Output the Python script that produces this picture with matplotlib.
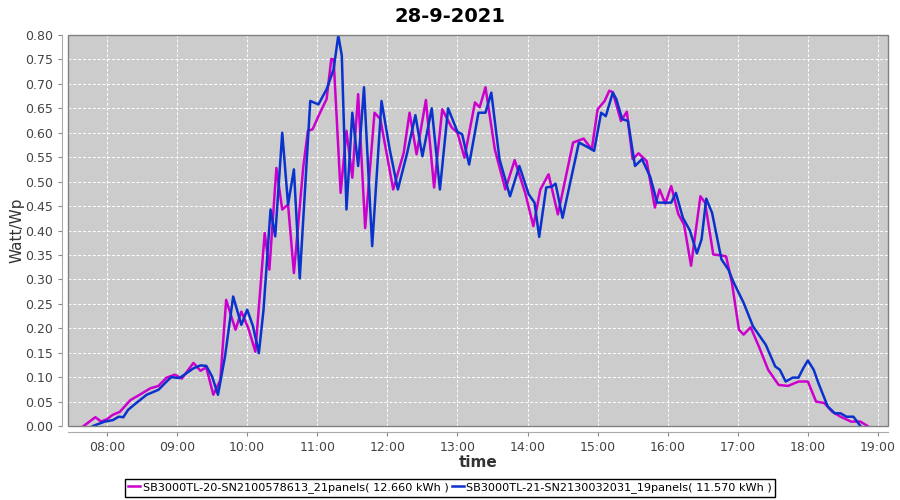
import matplotlib
matplotlib.use("Agg")
import matplotlib.pyplot as plt
import matplotlib.dates as mdates
import pandas as pd
from matplotlib.patches import Rectangle

day = "2021-09-28 "

# SB3000TL-20 (21 panels)
times_a = ["07:40", "07:50", "07:55", "08:00", "08:05", "08:11", "08:20", "08:28", "08:37", "08:44",
           "08:51", "08:58", "09:04", "09:14", "09:20", "09:25", "09:31", "09:37", "09:42", "09:50",
           "09:55", "10:01", "10:07", "10:15", "10:19", "10:25", "10:30", "10:35", "10:40", "10:48",
           "10:52", "10:56", "11:01", "11:08", "11:12", "11:14", "11:20", "11:25", "11:30", "11:35",
           "11:41", "11:49", "11:54", "12:05", "12:14", "12:19", "12:25", "12:33", "12:40", "12:47",
           "12:55", "13:00", "13:06", "13:15", "13:19", "13:24", "13:32", "13:41", "13:49", "13:58",
           "14:05", "14:11", "14:18", "14:26", "14:39", "14:48", "14:55", "15:00", "15:06", "15:10",
           "15:13", "15:20", "15:25", "15:30", "15:35", "15:42", "15:49", "15:53", "15:58", "16:03",
           "16:09", "16:14", "16:20", "16:28", "16:32", "16:39", "16:46", "16:50", "16:55", "17:01",
           "17:05", "17:11", "17:18", "17:26", "17:35", "17:43", "17:52", "18:00", "18:07", "18:14",
           "18:21", "18:28", "18:37", "18:45", "18:51"]
watt_a = [0.0, 0.018, 0.009, 0.014, 0.023, 0.029, 0.053, 0.064, 0.077, 0.082,
          0.099, 0.105, 0.097, 0.129, 0.113, 0.120, 0.064, 0.094, 0.258, 0.197,
          0.234, 0.200, 0.152, 0.395, 0.320, 0.528, 0.443, 0.453, 0.313, 0.530,
          0.604, 0.607, 0.634, 0.669, 0.751, 0.750, 0.477, 0.604, 0.508, 0.679,
          0.405, 0.641, 0.628, 0.484, 0.559, 0.641, 0.556, 0.667, 0.488, 0.648,
          0.611, 0.600, 0.549, 0.662, 0.652, 0.693, 0.566, 0.484, 0.544, 0.477,
          0.409, 0.484, 0.515, 0.433, 0.580, 0.588, 0.566, 0.648, 0.665, 0.686,
          0.683, 0.624, 0.643, 0.546, 0.558, 0.542, 0.447, 0.484, 0.455, 0.491,
          0.434, 0.412, 0.328, 0.470, 0.457, 0.351, 0.349, 0.347, 0.293, 0.197,
          0.187, 0.202, 0.163, 0.115, 0.084, 0.082, 0.091, 0.091, 0.050, 0.047,
          0.029, 0.019, 0.009, 0.009, 0.0]

# SB3000TL-21 (19 panels)
times_b = ["07:48", "07:58", "08:05", "08:10", "08:14", "08:18", "08:25", "08:34", "08:44", "08:51",
           "08:55", "09:02", "09:14", "09:20", "09:25", "09:30", "09:35", "09:41", "09:48", "09:55",
           "10:00", "10:05", "10:10", "10:14", "10:20", "10:24", "10:30", "10:35", "10:40", "10:45",
           "10:54", "11:01", "11:08", "11:14", "11:18", "11:21", "11:25", "11:30", "11:35", "11:40",
           "11:47", "11:55", "12:02", "12:09", "12:17", "12:24", "12:30", "12:38", "12:45", "12:52",
           "13:00", "13:04", "13:10", "13:18", "13:24", "13:29", "13:36", "13:45", "13:53", "14:01",
           "14:06", "14:10", "14:16", "14:21", "14:24", "14:30", "14:44", "14:52", "14:57", "15:03",
           "15:07", "15:13", "15:16", "15:21", "15:26", "15:32", "15:38", "15:45", "15:51", "15:57",
           "16:03", "16:07", "16:13", "16:19", "16:25", "16:29", "16:33", "16:38", "16:46", "16:52",
           "16:56", "17:05", "17:13", "17:24", "17:32", "17:36", "17:41", "17:47", "17:52", "17:56",
           "18:00", "18:05", "18:09", "18:17", "18:23", "18:28", "18:33", "18:39", "18:45"]
watt_b = [0.0, 0.009, 0.012, 0.019, 0.018, 0.033, 0.047, 0.064, 0.074, 0.091,
          0.100, 0.098, 0.118, 0.124, 0.123, 0.101, 0.064, 0.142, 0.265, 0.207,
          0.238, 0.204, 0.149, 0.238, 0.443, 0.388, 0.600, 0.453, 0.525, 0.302,
          0.665, 0.658, 0.689, 0.730, 0.799, 0.758, 0.443, 0.641, 0.532, 0.693,
          0.368, 0.665, 0.566, 0.484, 0.559, 0.636, 0.552, 0.650, 0.484, 0.650,
          0.602, 0.597, 0.535, 0.641, 0.641, 0.682, 0.546, 0.470, 0.532, 0.474,
          0.457, 0.387, 0.488, 0.490, 0.496, 0.426, 0.580, 0.570, 0.563, 0.641,
          0.634, 0.682, 0.669, 0.628, 0.624, 0.532, 0.546, 0.510, 0.457, 0.457,
          0.457, 0.477, 0.426, 0.400, 0.353, 0.382, 0.465, 0.436, 0.341, 0.320,
          0.296, 0.252, 0.204, 0.166, 0.122, 0.115, 0.091, 0.099, 0.099, 0.118,
          0.134, 0.115, 0.088, 0.040, 0.026, 0.026, 0.019, 0.019, 0.0]

label_a = "SB3000TL-20-SN2100578613_21panels( 12.660 kWh )"
label_b = "SB3000TL-21-SN2130032031_19panels( 11.570 kWh )"

ta = pd.to_datetime([day + t for t in times_a])
tb = pd.to_datetime([day + t for t in times_b])

fig = plt.figure(figsize=(9, 5), dpi=100)
ax = fig.add_axes([68 / 900, 74 / 500, 820 / 900, 391 / 500])
ax.set_facecolor("#cccccc")

ax.plot(ta, watt_a, color="#cc00cc", lw=1.8, solid_joinstyle="round", label=label_a)
ax.plot(tb, watt_b, color="#0a32cc", lw=1.8, solid_joinstyle="round", label=label_b)

ax.set_xlim(pd.Timestamp(day + "07:26:36"), pd.Timestamp(day + "19:08:36"))
ax.set_ylim(0, 0.8)
ax.set_yticks([i * 0.05 for i in range(17)])
ax.yaxis.set_major_formatter(plt.FuncFormatter(lambda v, p: "%.2f" % v))
ax.xaxis.set_major_locator(mdates.HourLocator())
ax.xaxis.set_major_formatter(mdates.DateFormatter("%H:%M"))

ax.grid(True, color="white", ls=(0, (3, 2)), lw=0.7)
ax.tick_params(labelsize=9, colors="#888888", labelcolor="#444444", length=3)

for s in ["top", "right"]:
    ax.spines[s].set_visible(False)
for s in ["left", "bottom"]:
    ax.spines[s].set_position(("outward", 4))
    ax.spines[s].set_color("#aaaaaa")
ax.add_patch(Rectangle((0, 0), 1, 1, transform=ax.transAxes, fill=False,
                       edgecolor="#808080", lw=1, clip_on=False, zorder=5))

fig.suptitle("28-9-2021", x=0.5, y=0.985, fontsize=14, fontweight="bold")
ax.set_xlabel("time", fontsize=11, color="#333333", fontweight="semibold", labelpad=1)
ax.set_ylabel("Watt/Wp", fontsize=11, color="#333333", labelpad=1)

fig.legend(loc="lower center", bbox_to_anchor=(0.5, 0.0), ncol=2, fontsize=8.1,
           frameon=True, fancybox=False, edgecolor="black", framealpha=1,
           handlelength=1.1, handletextpad=0.2, columnspacing=0.3,
           borderpad=0.3, borderaxespad=0.3)

fig.savefig("out.png", dpi=100)
